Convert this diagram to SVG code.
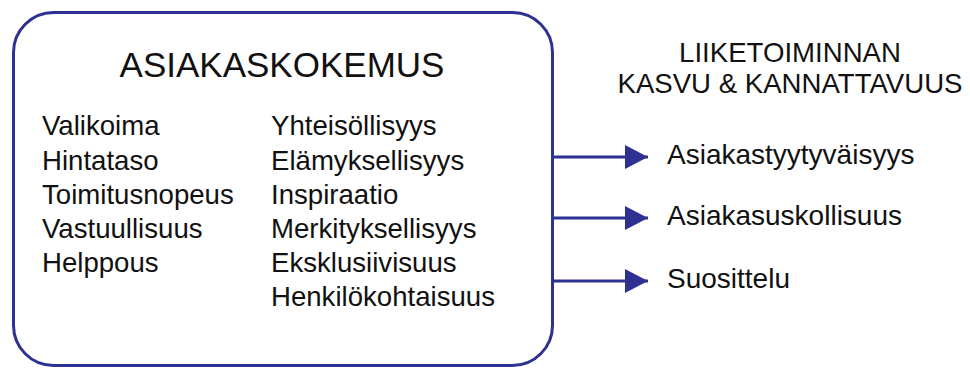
<svg xmlns="http://www.w3.org/2000/svg" width="970" height="369" viewBox="0 0 970 369">
  <style>
    text { font-family: "Liberation Sans", Arial, sans-serif; fill: #111; }
    .title { font-size: 35px; text-anchor: middle; }
    .item { font-size: 27.6px; }
    .head { font-size: 27.6px; text-anchor: middle; }
    .out { font-size: 28px; }
    .frame { fill: #fff; stroke: #2e3192; stroke-width: 3; }
    .link { stroke: #2e3192; stroke-width: 3; fill: none; }
  </style>
  <defs>
    <marker id="arrowhead" viewBox="0 0 23 24" refX="23" refY="12" markerWidth="23" markerHeight="24" markerUnits="userSpaceOnUse" orient="auto">
      <path d="M0,0 L23,12 L0,24 Z" fill="#2e3192"/>
    </marker>
  </defs>
  <rect width="970" height="369" fill="#fff"/>

  <!-- customer experience box -->
  <g id="asiakaskokemus">
    <rect class="frame" x="13.5" y="12.5" width="539" height="353" rx="40" ry="40"/>
    <text class="title" x="282" y="77">ASIAKASKOKEMUS</text>
    <text class="item" x="42" y="135">Valikoima</text>
    <text class="item" x="42" y="169.5">Hintataso</text>
    <text class="item" x="42" y="204">Toimitusnopeus</text>
    <text class="item" x="42" y="238">Vastuullisuus</text>
    <text class="item" x="42" y="272">Helppous</text>
    <text class="item" x="271" y="135">Yhteisöllisyys</text>
    <text class="item" x="271" y="169.5">Elämyksellisyys</text>
    <text class="item" x="271" y="204">Inspiraatio</text>
    <text class="item" x="271" y="238">Merkityksellisyys</text>
    <text class="item" x="271" y="272">Eksklusiivisuus</text>
    <text class="item" x="271" y="306">Henkilökohtaisuus</text>
  </g>

  <!-- business outcome heading -->
  <g id="liiketoiminta">
    <text class="head" x="790" y="62">LIIKETOIMINNAN</text>
    <text class="head" x="790" y="93">KASVU &amp; KANNATTAVUUS</text>
  </g>

  <g id="asiakastyytyvaisyys">
    <text class="out" x="667" y="164">Asiakastyytyväisyys</text>
  </g>
  <g id="asiakasuskollisuus">
    <text class="out" x="667" y="225">Asiakasuskollisuus</text>
  </g>
  <g id="suosittelu">
    <text class="out" x="667" y="288">Suosittelu</text>
  </g>

  <!-- connectors -->
  <g id="connectors">
    <line class="link" x1="553" y1="157" x2="648" y2="157" marker-end="url(#arrowhead)"/>
    <line class="link" x1="553" y1="218" x2="648" y2="218" marker-end="url(#arrowhead)"/>
    <line class="link" x1="553" y1="281" x2="648" y2="281" marker-end="url(#arrowhead)"/>
  </g>
</svg>
